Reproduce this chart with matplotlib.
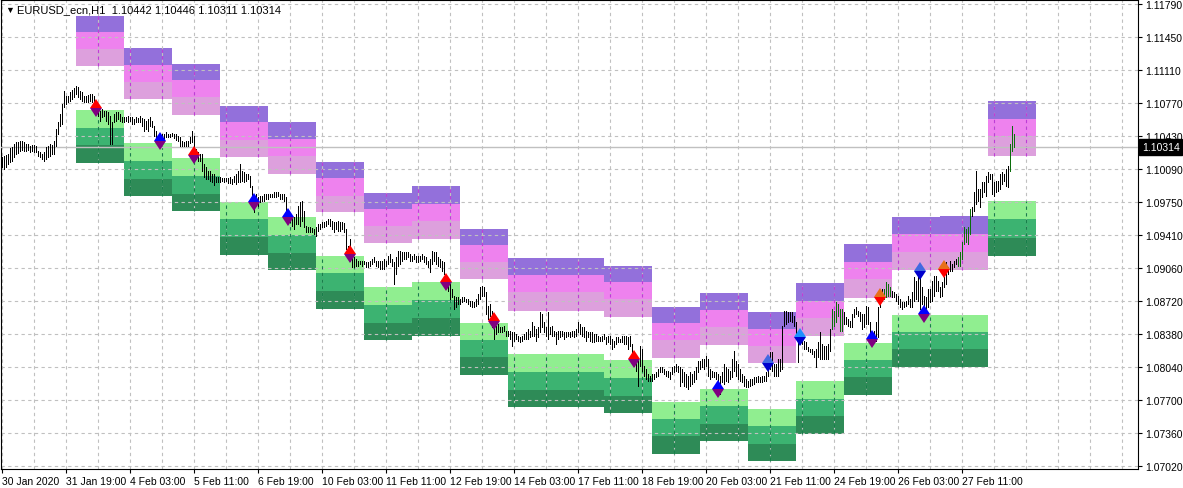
import matplotlib
matplotlib.use("Agg")
from matplotlib import pyplot as plt
from matplotlib import transforms

plt.rcParams['font.family'] = ['Liberation Sans', 'DejaVu Sans']

# EURUSD H1 bars from 30 Jan 2020 11:00
high = [
    1.1021, 1.1022, 1.1023, 1.1024, 1.1030, 1.1031, 1.1034, 1.1037, 1.1037, 1.1038,
    1.1038, 1.1037, 1.1034, 1.1034, 1.1032, 1.1033, 1.1033, 1.1032, 1.1027, 1.1026,
    1.1024, 1.1026, 1.1031, 1.1032, 1.1034, 1.1033, 1.1038, 1.1050, 1.1057, 1.1065,
    1.1076, 1.1089, 1.1084, 1.1084, 1.1088, 1.1090, 1.1092, 1.1094, 1.1093, 1.1089,
    1.1088, 1.1084, 1.1084, 1.1085, 1.1086, 1.1086, 1.1084, 1.1079, 1.1074, 1.1069,
    1.1071, 1.1069, 1.1069, 1.1067, 1.1063, 1.1057, 1.1065, 1.1067, 1.1067, 1.1065,
    1.1062, 1.1062, 1.1062, 1.1063, 1.1062, 1.1062, 1.1060, 1.1062, 1.1061, 1.1063,
    1.1061, 1.1060, 1.1058, 1.1060, 1.1062, 1.1058, 1.1053, 1.1048, 1.1043, 1.1042,
    1.1045, 1.1045, 1.1047, 1.1045, 1.1045, 1.1046,
    1.1045, 1.1045, 1.1043, 1.1042, 1.1038, 1.1037, 1.1038, 1.1038, 1.1042, 1.1048,
    1.1043, 1.1029, 1.1026, 1.1024, 1.1024, 1.1014, 1.1011, 1.1007, 1.1007, 1.1003,
    1.1003, 1.1000, 1.1000, 1.1000, 1.0999, 1.0999, 1.0999, 1.0999, 1.1000, 1.0998,
    1.1001, 1.1003, 1.1007, 1.1014, 1.1007, 1.1006, 1.1003, 1.1003, 1.1001, 1.0991,
    1.0981, 1.0983, 1.0980, 1.0981, 1.0981, 1.0983, 1.0983, 1.0983, 1.0983, 1.0983,
    1.0985, 1.0985, 1.0985, 1.0983, 1.0983, 1.0983, 1.0980, 1.0965, 1.0962, 1.0959,
    1.0959, 1.0962, 1.0970, 1.0975, 1.0976, 1.0965, 1.0950, 1.0949, 1.0949, 1.0948,
    1.0947, 1.0949, 1.0952, 1.0952, 1.0954, 1.0954, 1.0955, 1.0957, 1.0957, 1.0955,
    1.0954, 1.0954, 1.0955, 1.0954, 1.0954,
    1.0953, 1.0947, 1.0929, 1.0936, 1.0921, 1.0918, 1.0916, 1.0914, 1.0914, 1.0914,
    1.0914, 1.0913, 1.0913, 1.0914, 1.0916, 1.0918, 1.0914, 1.0914, 1.0914, 1.0914,
    1.0916, 1.0914, 1.0919, 1.0921, 1.0916, 1.0913, 1.0918, 1.0924, 1.0924, 1.0923,
    1.0923, 1.0923, 1.0923, 1.0921, 1.0919, 1.0921, 1.0919, 1.0919, 1.0919, 1.0921,
    1.0919, 1.0918, 1.0914, 1.0916, 1.0924, 1.0923, 1.0923, 1.0918, 1.0916, 1.0914,
    1.0913, 1.0898, 1.0895, 1.0890, 1.0885, 1.0878, 1.0876, 1.0876, 1.0874, 1.0876,
    1.0876, 1.0874, 1.0874, 1.0872, 1.0872, 1.0871, 1.0874, 1.0880, 1.0887, 1.0888,
    1.0887, 1.0882, 1.0867, 1.0869, 1.0862, 1.0851, 1.0847, 1.0849, 1.0846, 1.0846,
    1.0847, 1.0841, 1.0841, 1.0841, 1.0840,
    1.0840, 1.0838, 1.0836, 1.0835, 1.0836, 1.0838, 1.0840, 1.0843, 1.0841, 1.0851,
    1.0847, 1.0843, 1.0845, 1.0861, 1.0859, 1.0851, 1.0846, 1.0861, 1.0846, 1.0847,
    1.0841, 1.0840, 1.0841, 1.0841, 1.0841, 1.0840, 1.0840, 1.0840, 1.0840, 1.0841,
    1.0841, 1.0843, 1.0851, 1.0849, 1.0846, 1.0846, 1.0841, 1.0840, 1.0840, 1.0840,
    1.0838, 1.0838, 1.0836, 1.0835, 1.0836, 1.0838, 1.0835, 1.0836, 1.0836, 1.0833,
    1.0831, 1.0835, 1.0835, 1.0833, 1.0836, 1.0836, 1.0836, 1.0835, 1.0836, 1.0828,
    1.0820, 1.0815, 1.0812, 1.0826, 1.0823, 1.0805, 1.0802, 1.0797, 1.0795, 1.0797,
    1.0797, 1.0799, 1.0802, 1.0804, 1.0804, 1.0802, 1.0800, 1.0800, 1.0799, 1.0804,
    1.0805, 1.0807, 1.0805, 1.0804,
    1.0802, 1.0799, 1.0797, 1.0795, 1.0799, 1.0797, 1.0800, 1.0804, 1.0810, 1.0810,
    1.0812, 1.0812, 1.0816, 1.0812, 1.0802, 1.0800, 1.0799, 1.0799, 1.0797, 1.0795,
    1.0799, 1.0807, 1.0804, 1.0802, 1.0800, 1.0812, 1.0821, 1.0810, 1.0807, 1.0802,
    1.0797, 1.0795, 1.0792, 1.0790, 1.0792, 1.0792, 1.0794, 1.0794, 1.0795, 1.0794,
    1.0795, 1.0795, 1.0799, 1.0812, 1.0820, 1.0820, 1.0807, 1.0807, 1.0812, 1.0812,
    1.0847, 1.0862, 1.0862, 1.0861, 1.0861, 1.0861, 1.0857, 1.0851, 1.0838, 1.0840,
    1.0836, 1.0831, 1.0830, 1.0825, 1.0823, 1.0823, 1.0821, 1.0823, 1.0830, 1.0840,
    1.0828, 1.0826, 1.0826, 1.0828, 1.0843, 1.0864, 1.0862, 1.0871, 1.0869, 1.0864,
    1.0864, 1.0861, 1.0856, 1.0854,
    1.0852, 1.0859, 1.0864, 1.0866, 1.0862, 1.0861, 1.0859, 1.0859, 1.0867, 1.0866,
    1.0851, 1.0840, 1.0841, 1.0851, 1.0866, 1.0880, 1.0885, 1.0885, 1.0892, 1.0890,
    1.0887, 1.0883, 1.0882, 1.0880, 1.0878, 1.0874, 1.0871, 1.0871, 1.0872, 1.0878,
    1.0874, 1.0882, 1.0897, 1.0893, 1.0897, 1.0907, 1.0887, 1.0878, 1.0876, 1.0885,
    1.0885, 1.0893, 1.0898, 1.0898, 1.0893, 1.0887, 1.0892, 1.0897, 1.0913, 1.0907,
    1.0914, 1.0911, 1.0914, 1.0916, 1.0918, 1.0923, 1.0933, 1.0949, 1.0947, 1.0949,
    1.0967, 1.0969, 1.0985, 1.1007, 1.0988, 1.0988, 1.0995, 1.0995, 1.1001, 1.1006,
    1.1003, 1.1003, 1.0995, 1.0996, 1.0996, 1.1003, 1.1006, 1.1003, 1.1009, 1.1012,
    1.1034, 1.1053, 1.10446,
]
low = [
    1.1011, 1.1009, 1.1011, 1.1014, 1.1016, 1.1017, 1.1021, 1.1024, 1.1025, 1.1027,
    1.1028, 1.1027, 1.1027, 1.1028, 1.1026, 1.1027, 1.1026, 1.1026, 1.1022, 1.1021,
    1.1019, 1.1017, 1.1019, 1.1021, 1.1022, 1.1024, 1.1024, 1.1032, 1.1045, 1.1053,
    1.1055, 1.1073, 1.1076, 1.1078, 1.1079, 1.1081, 1.1083, 1.1086, 1.1083, 1.1081,
    1.1079, 1.1078, 1.1078, 1.1078, 1.1079, 1.1078, 1.1078, 1.1065, 1.1063, 1.1058,
    1.1062, 1.1063, 1.1058, 1.1055, 1.1034, 1.1034, 1.1057, 1.1058, 1.1060, 1.1058,
    1.1057, 1.1057, 1.1058, 1.1057, 1.1058, 1.1055, 1.1055, 1.1057, 1.1057, 1.1057,
    1.1053, 1.1048, 1.1050, 1.1048, 1.1053, 1.1052, 1.1043, 1.1042, 1.1032, 1.1031,
    1.1037, 1.1040, 1.1042, 1.1042, 1.1042, 1.1043,
    1.1041, 1.1039, 1.1038, 1.1032, 1.1032, 1.1032, 1.1032, 1.1032, 1.1035, 1.1037,
    1.1019, 1.1019, 1.1017, 1.1017, 1.1007, 1.1000, 1.0998, 1.0998, 1.0996, 1.0995,
    1.0992, 1.0995, 1.0995, 1.0995, 1.0996, 1.0995, 1.0996, 1.0994, 1.0994, 1.0993,
    1.0995, 1.0993, 1.0995, 1.0995, 1.0996, 1.0995, 1.0996, 1.0998, 1.0990, 1.0976,
    1.0964, 1.0973, 1.0970, 1.0975, 1.0976, 1.0976, 1.0978, 1.0978, 1.0980, 1.0980,
    1.0980, 1.0980, 1.0981, 1.0978, 1.0978, 1.0976, 1.0965, 1.0955, 1.0954, 1.0950,
    1.0947, 1.0952, 1.0952, 1.0950, 1.0955, 1.0949, 1.0944, 1.0944, 1.0944, 1.0944,
    1.0942, 1.0939, 1.0945, 1.0947, 1.0949, 1.0949, 1.0950, 1.0952, 1.0950, 1.0947,
    1.0944, 1.0947, 1.0945, 1.0945, 1.0947,
    1.0944, 1.0926, 1.0919, 1.0914, 1.0907, 1.0907, 1.0908, 1.0908, 1.0911, 1.0908,
    1.0911, 1.0907, 1.0907, 1.0908, 1.0911, 1.0913, 1.0908, 1.0907, 1.0905, 1.0905,
    1.0905, 1.0908, 1.0911, 1.0913, 1.0908, 1.0890, 1.0900, 1.0908, 1.0911, 1.0914,
    1.0916, 1.0916, 1.0918, 1.0914, 1.0914, 1.0916, 1.0913, 1.0913, 1.0914, 1.0916,
    1.0913, 1.0911, 1.0907, 1.0902, 1.0911, 1.0914, 1.0911, 1.0908, 1.0907, 1.0903,
    1.0900, 1.0887, 1.0883, 1.0874, 1.0876, 1.0864, 1.0866, 1.0869, 1.0869, 1.0871,
    1.0872, 1.0871, 1.0869, 1.0867, 1.0866, 1.0866, 1.0867, 1.0869, 1.0874, 1.0878,
    1.0878, 1.0859, 1.0854, 1.0857, 1.0846, 1.0833, 1.0838, 1.0840, 1.0840, 1.0840,
    1.0841, 1.0836, 1.0836, 1.0833, 1.0826,
    1.0831, 1.0833, 1.0831, 1.0830, 1.0831, 1.0833, 1.0833, 1.0833, 1.0835, 1.0836,
    1.0836, 1.0831, 1.0835, 1.0840, 1.0846, 1.0840, 1.0836, 1.0833, 1.0838, 1.0836,
    1.0836, 1.0828, 1.0833, 1.0835, 1.0836, 1.0833, 1.0835, 1.0836, 1.0835, 1.0836,
    1.0835, 1.0836, 1.0840, 1.0838, 1.0836, 1.0835, 1.0831, 1.0835, 1.0831, 1.0830,
    1.0830, 1.0831, 1.0831, 1.0831, 1.0831, 1.0833, 1.0828, 1.0830, 1.0828, 1.0823,
    1.0825, 1.0828, 1.0830, 1.0830, 1.0830, 1.0828, 1.0828, 1.0823, 1.0826, 1.0810,
    1.0805, 1.0800, 1.0785, 1.0805, 1.0800, 1.0795, 1.0792, 1.0790, 1.0790, 1.0790,
    1.0792, 1.0794, 1.0795, 1.0799, 1.0799, 1.0797, 1.0795, 1.0794, 1.0792, 1.0797,
    1.0799, 1.0800, 1.0799, 1.0785,
    1.0789, 1.0785, 1.0784, 1.0781, 1.0785, 1.0787, 1.0789, 1.0792, 1.0799, 1.0802,
    1.0804, 1.0802, 1.0805, 1.0795, 1.0792, 1.0794, 1.0794, 1.0792, 1.0779, 1.0776,
    1.0789, 1.0787, 1.0790, 1.0789, 1.0792, 1.0794, 1.0800, 1.0795, 1.0792, 1.0790,
    1.0789, 1.0785, 1.0784, 1.0784, 1.0785, 1.0786, 1.0787, 1.0789, 1.0789, 1.0789,
    1.0789, 1.0790, 1.0790, 1.0795, 1.0802, 1.0800, 1.0795, 1.0795, 1.0795, 1.0800,
    1.0802, 1.0847, 1.0849, 1.0851, 1.0852, 1.0851, 1.0847, 1.0838, 1.0809, 1.0828,
    1.0828, 1.0823, 1.0823, 1.0821, 1.0820, 1.0818, 1.0815, 1.0804, 1.0815, 1.0812,
    1.0812, 1.0812, 1.0812, 1.0812, 1.0821, 1.0843, 1.0847, 1.0851, 1.0857, 1.0841,
    1.0841, 1.0849, 1.0849, 1.0847,
    1.0846, 1.0846, 1.0856, 1.0859, 1.0857, 1.0852, 1.0843, 1.0846, 1.0849, 1.0849,
    1.0835, 1.0828, 1.0835, 1.0831, 1.0835, 1.0866, 1.0872, 1.0874, 1.0876, 1.0878,
    1.0878, 1.0876, 1.0876, 1.0872, 1.0869, 1.0866, 1.0864, 1.0866, 1.0867, 1.0869,
    1.0866, 1.0866, 1.0872, 1.0874, 1.0872, 1.0864, 1.0869, 1.0859, 1.0859, 1.0866,
    1.0871, 1.0872, 1.0878, 1.0883, 1.0883, 1.0876, 1.0878, 1.0887, 1.0890, 1.0900,
    1.0903, 1.0903, 1.0907, 1.0911, 1.0908, 1.0908, 1.0916, 1.0931, 1.0933, 1.0931,
    1.0942, 1.0960, 1.0965, 1.0973, 1.0976, 1.0969, 1.0980, 1.0985, 1.0981, 1.0995,
    1.0998, 1.0983, 1.0981, 1.0985, 1.0986, 1.0988, 1.0993, 1.0996, 1.0991, 1.0990,
    1.1007, 1.1027, 1.10311,
]
# bars drawn green (first, last bar index)
green_runs = [(415, 420), (441, 444), (478, 484), (504, 506)]

# daily zones, one per 24 bars, first one starts at bar 37
day_first_bar = 37
day_bars = 24
# sell zone: top, band 2 top, band 3 top, bottom
sell_zone = [
    (1.1167, 1.1150, 1.1133, 1.1115),
    (1.1134, 1.1116, 1.1098, 1.1081),
    (1.1117, 1.1101, 1.1083, 1.1064),
    (1.1074, 1.1057, 1.1039, 1.1021),
    (1.1057, 1.1040, 1.1022, 1.1003),
    (1.1016, 1.0999, 1.0981, 1.0964),
    (1.0984, 1.0967, 1.0950, 1.0932),
    (1.0991, 1.0973, 1.0955, 1.0936),
    (1.0947, 1.0930, 1.0913, 1.0895),
    (1.0917, 1.0899, 1.0882, 1.0862),
    (1.0917, 1.0899, 1.0882, 1.0862),
    (1.0908, 1.0892, 1.0874, 1.0856),
    (1.0866, 1.0850, 1.0832, 1.0813),
    (1.0881, 1.0863, 1.0846, 1.0827),
    (1.0861, 1.0843, 1.0826, 1.0808),
    (1.0891, 1.0872, 1.0855, 1.0836),
    (1.0931, 1.0913, 1.0895, 1.0875),
    (1.0959, 1.0942, 1.0923, 1.0904),
    (1.0960, 1.0942, 1.0923, 1.0904),
    (1.1079, 1.1060, 1.1043, 1.1022),
]
buy_zone = [
    (1.1070, 1.1051, 1.1033, 1.1015),
    (1.1035, 1.1017, 1.0998, 1.0981),
    (1.1020, 1.1001, 1.0983, 1.0965),
    (1.0975, 1.0957, 1.0938, 1.0920),
    (1.0959, 1.0940, 1.0922, 1.0904),
    (1.0919, 1.0901, 1.0883, 1.0864),
    (1.0887, 1.0868, 1.0850, 1.0832),
    (1.0892, 1.0873, 1.0855, 1.0836),
    (1.0850, 1.0832, 1.0815, 1.0796),
    (1.0818, 1.0799, 1.0780, 1.0763),
    (1.0818, 1.0799, 1.0780, 1.0763),
    (1.0811, 1.0793, 1.0774, 1.0757),
    (1.0768, 1.0751, 1.0733, 1.0714),
    (1.0781, 1.0764, 1.0745, 1.0728),
    (1.0761, 1.0743, 1.0725, 1.0707),
    (1.0790, 1.0771, 1.0754, 1.0735),
    (1.0829, 1.0811, 1.0794, 1.0775),
    (1.0858, 1.0840, 1.0823, 1.0804),
    (1.0858, 1.0840, 1.0823, 1.0804),
    (1.0976, 1.0957, 1.0937, 1.0919),
]

# signal arrows
sig_bar = [47, 79, 96, 126, 143, 174, 222, 246, 316, 358, 383, 399, 435, 439, 459, 461, 471]
sig_price = [1.1072, 1.1038, 1.1023, 1.0975, 1.0959, 1.0921, 1.0892, 1.0852, 1.0812,
             1.0781, 1.0808, 1.0835, 1.0833, 1.0876, 1.0903, 1.0859, 1.0905]
sig_top = ['#FF0000', '#0000FF', '#FF0000', '#0000FF', '#0000FF', '#FF0000', '#FF0000',
           '#FF0000', '#FF0000', '#0000FF', '#4169E1', '#1E90FF', '#0000FF', '#E8701A',
           '#4169E1', '#0000FF', '#E8701A']
sig_bottom = ['#800080', '#800080', '#800080', '#800080', '#800080', '#800080', '#800080',
              '#800080', '#800080', '#800080', '#0000CD', '#0000CD', '#800080', '#FF0000',
              '#0000CD', '#800080', '#FF0000']

time_ticks = [0, 32, 64, 96, 128, 160, 192, 224, 256, 288, 320, 352, 384, 416, 448, 480]
time_labels = ["30 Jan 2020", "31 Jan 19:00", "4 Feb 03:00", "5 Feb 11:00", "6 Feb 19:00",
               "10 Feb 03:00", "11 Feb 11:00", "12 Feb 19:00", "14 Feb 03:00", "17 Feb 11:00",
               "18 Feb 19:00", "20 Feb 03:00", "21 Feb 11:00", "24 Feb 19:00", "26 Feb 03:00",
               "27 Feb 11:00"]
price_ticks = [1.11790, 1.11450, 1.11110, 1.10770, 1.10430, 1.10090, 1.09750, 1.09410,
               1.09060, 1.08720, 1.08380, 1.08040, 1.07700, 1.07360, 1.07020]
last_price = 1.10314
title = "EURUSD_ecn,H1  1.10442 1.10446 1.10311 1.10314"

W, H = 1183, 489
fig = plt.figure(figsize=(W / 100, H / 100), dpi=100)
ax = fig.add_axes([0.5 / W, 19 / H, 1137.5 / W, 469.5 / H])
ax.set_xlim(-0.75, 568)
ax.set_ylim(1.06989, 1.118365)

dash = (0, (3, 3))
grid_x = list(range(0, 568, 16))
for p in price_ticks:
    ax.axhline(p, color='#C0C0C0', lw=0.8, ls=dash, zorder=2)
for gx in grid_x:
    ax.axvline(gx, color='#C0C0C0', lw=0.8, ls=dash, zorder=2)

up_cols = ['#9370DB', '#EE82EE', '#DDA0DD']
dn_cols = ['#90EE90', '#3CB371', '#2E8B57']
for k, (up, dn) in enumerate(zip(sell_zone, buy_zone)):
    x0 = day_first_bar + k * day_bars
    for j in range(3):
        ax.bar(x0, up[j] - up[j + 1], bottom=up[j + 1], width=day_bars, align='edge',
               color=up_cols[j], lw=0, zorder=1)
        ax.bar(x0, dn[j] - dn[j + 1], bottom=dn[j + 1], width=day_bars, align='edge',
               color=dn_cols[j], lw=0, zorder=1)
    for gx in grid_x:
        if x0 < gx < x0 + day_bars:
            ax.vlines(gx, up[3], up[0], colors='#C03CD8', lw=0.8, linestyles=dash, zorder=2.5)
            ax.vlines(gx, dn[3], dn[0], colors='#17804A', lw=0.8, linestyles=dash, zorder=2.5)

ax.axhline(last_price, color='#C0C0C0', lw=1.0, zorder=3)

bar_cols = ['black'] * len(high)
for a, b in green_runs:
    for i in range(a, b + 1):
        bar_cols[i] = '#0B6E0B'
ax.vlines(range(len(high)), low, high, colors=bar_cols, lw=0.5, zorder=4, antialiased=False)

for i, p, ct, cb in zip(sig_bar, sig_price, sig_top, sig_bottom):
    ax.plot(i, p, marker='d', ms=9.5, fillstyle='top', markerfacecolor=ct,
            markerfacecoloralt=cb, markeredgewidth=0, zorder=5)

ax.yaxis.tick_right()
ax.set_yticks(price_ticks, [f"{p:.5f}" for p in price_ticks])
ax.tick_params(axis='y', direction='out', length=3, width=0.8, pad=2, labelsize=7.5)
ax.set_xticks(time_ticks, time_labels)
ax.tick_params(axis='x', direction='out', length=3, width=0.8, pad=2, labelsize=7.5)
for lbl in ax.get_xticklabels():
    lbl.set_horizontalalignment('left')
for sp in ax.spines.values():
    sp.set_linewidth(0.8)
    sp.set_color('black')

trans = transforms.blended_transform_factory(ax.transAxes, ax.transData)
ax.text(1.0035, last_price, f"{last_price:.5f}", transform=trans, ha='left', va='center',
        fontsize=7.5, color='white', clip_on=False, zorder=6,
        bbox=dict(boxstyle='square,pad=0.25', fc='black', ec='black'))

fig.text(5 / W, 1 - 10 / H, "\u25bc", fontsize=6.5, va='center', ha='left')
fig.text(17 / W, 1 - 10 / H, title, fontsize=8, va='center', ha='left')

fig.savefig("out.png", dpi=100)
